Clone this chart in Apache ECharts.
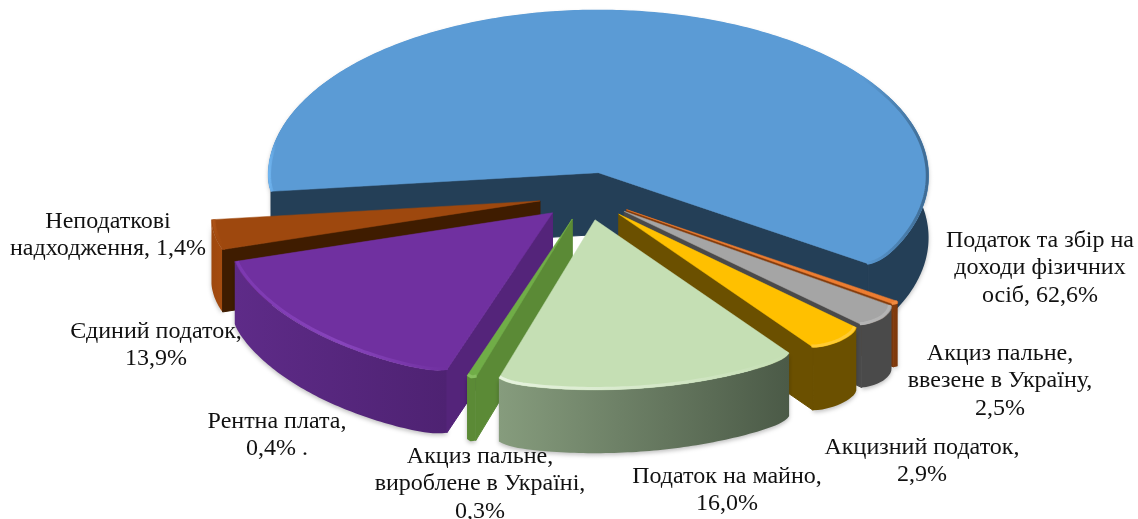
<!DOCTYPE html>
<html><head><meta charset="utf-8">
<style>html,body{margin:0;padding:0;background:#fff}#c{width:1138px;height:519px}</style>
<script src="https://cdn.jsdelivr.net/npm/echarts@6/dist/echarts.min.js"></script></head>
<body><div id="c"></div>
<script>
// Clockwise from the lower right of the pie
const categories = ['Податок та збір на доходи фізичних осіб','Рентна плата','Акциз пальне, ввезене в Україну','Акцизний податок','Податок на майно','Акциз пальне, вироблене в Україні','Єдиний податок','Неподаткові надходження'];
// Percentages printed in the labels
const labelPercents = ['62,6%','0,4%','2,5%','2,9%','16,0%','0,3%','13,9%','1,4%'];
// Share of the circle each slice occupies as drawn in the picture (degrees)
const sliceSweep = [220.5, 1.2, 8.4, 10.2, 53.2, 1.6, 54.4, 10.5];
const blueEndAngle = 34;

const colors = {
  top:  ['#5B9BD5','#ED7D31','#A5A5A5','#FFC000','#C5DFB4','#70AD47','#7030A0','#9E480E'],
  wall: ['#243F57','#843C0C','#4A4A4A','#6B5000','#4E5C4A','#5B8A36','#54247A','#3F1C00'],
  rimL: ['#243F57','#843C0C','#4A4A4A','#6B5000','#869C7D','#5B8A36','#5E2B88','#9E480E'],
  rimR: ['#243F57','#7A360A','#4A4A4A','#6B5000','#4B5A47','#5B8A36','#4E2272','#A54C10'],
  glowL:['#5B9BD5','#F08A40','#B4B4B4','#FFCB33','#E6F3DE','#86BE5E','#7C38B0','#B0561A'],
  glowM:['#5B9BD5','#F08A40','#B4B4B4','#FFCB33','#D6E8CA','#86BE5E','#8744BC','#A54C10'],
  glowR:['#5B9BD5','#F08A40','#B4B4B4','#FFCB33','#C5DFB4','#86BE5E','#7030A0','#9E480E']
};
const C = {x:587, y:196, R:331, S:166, p:0.0185, e:0.145, T:62, round:0.025, roundSide:0.004, roundDeg:2};
const rad = d => d*Math.PI/180;
// start angle of every slice (blue's start is blueEndAngle - its sweep)
const starts = []; let acc = blueEndAngle - sliceSweep[0];
sliceSweep.forEach(v => { starts.push(acc); acc += v; });
const order = sliceSweep.map((v,i)=>i).sort((a,b)=>Math.sin(rad(starts[a]+sliceSweep[a]/2))-Math.sin(rad(starts[b]+sliceSweep[b]/2)));

function proj(X,Y,down){const k=1/(1-C.p*Y);return [C.x+C.R*X*k, C.y+C.S*Y*k+(down?C.T*k:0)];}
function renderSlice(params, api){
  const i = api.value(0), a0=starts[i], a1=a0+sliceSweep[i], m=rad((a0+a1)/2);
  const ox=C.e*Math.cos(m), oy=C.e*Math.sin(m);
  const pt=(r,t,d)=>proj(ox+r*Math.cos(rad(t)),oy+r*Math.sin(rad(t)),d);
  // rim radius, eased inwards at the ends so front-facing outer corners look rounded
  const ease=(a)=>Math.sin(rad(a))>0.5?C.round:C.roundSide;
  const c0=ease(a0), c1=ease(a1);
  const edge=(t)=>1-Math.max(c0*Math.exp(-(t-a0)/C.roundDeg),c1*Math.exp(-(a1-t)/C.roundDeg));
  const arc=(r,d)=>{const n=Math.max(4,Math.ceil((a1-a0)/0.75));const o=[];for(let j=0;j<=n;j++){const t=a0+(a1-a0)*j/n;o.push(pt(r*edge(t),t,d));}return o;};
  const top=arc(1,false), bot=arc(1,true), apex=pt(0,0,false), apexD=pt(0,0,true);
  const xs=top.map(p=>p[0]); const minX=Math.min(...xs), maxX=Math.max(...xs);
  const grad=(stops)=>({type:'linear',x:minX,y:0,x2:maxX+0.01,y2:0,global:true,colorStops:stops});
  const wall=colors.wall[i];
  const poly=(points,fill)=>({type:'polygon',shape:{points},style:{fill,stroke:fill,lineWidth:1,lineJoin:'round'}});
  const last=top.length-1;
  const face0=Math.sin(rad(a0-90))>0, face1=Math.sin(rad(a1+90))>0;
  const kids=[
    {type:'polygon',shape:{points:top.concat(bot.slice().reverse())},
     style:{fill:grad([{offset:0,color:colors.rimL[i]},{offset:1,color:colors.rimR[i]}]),shadowBlur:4,shadowColor:'rgba(0,0,0,0.25)',shadowOffsetY:2}}
  ];
  if(face0&&face1){
    kids.push(poly([top[0],apex,top[last],bot[last],apexD,bot[0]],wall));
  } else {
    if(face0) kids.push(poly([apex,top[0],bot[0],apexD],wall));
    if(face1) kids.push(poly([apex,top[last],bot[last],apexD],wall));
  }
  kids.push({type:'polygon',shape:{points:[apex].concat(top)},style:{fill:colors.top[i],stroke:colors.top[i],lineWidth:0.5}});
  if(i===0){
    kids.push({type:'polyline',shape:{points:arc(0.996,false)},style:{fill:null,lineWidth:3,
      stroke:grad([{offset:0,color:'#72B8F4'},{offset:0.012,color:'#5B9BD5'},{offset:0.9,color:'#5B9BD5'},{offset:0.98,color:'#44749F'},{offset:1,color:'#3E6A92'}])}});
  } else {
    kids.push({type:'polyline',shape:{points:arc(0.992,false)},style:{fill:null,lineWidth:3,
      stroke:grad([{offset:0,color:colors.glowL[i]},{offset:0.5,color:colors.glowM[i]},{offset:1,color:colors.glowR[i]}])}});
  }
  return {type:'group',children:kids};
}

// Label placement (layout only): centre x / centre y of each label block
const labelLayout = [
  {lines:['Податок та збір на','доходи фізичних','осіб, {p}'],x:1040,y:268},
  {lines:['Рентна плата,','{p} .'],x:277,y:435},
  {lines:['Акциз пальне,','ввезене в Україну,','{p}'],x:1000,y:381},
  {lines:['Акцизний податок,','{p}'],x:922,y:461},
  {lines:['Податок на майно,','{p}'],x:727,y:490},
  {lines:['Акциз пальне,','вироблене в Україні,','{p}'],x:480,y:484},
  {lines:['Єдиний податок,','{p}'],x:156,y:345},
  {lines:['Неподаткові','надходження, {p}'],x:108,y:235}
];
const graphicText = labelLayout.map((l,i)=>({type:'text',x:l.x,y:l.y,z:100,style:{
  text:l.lines.join('\n').replace('{p}',labelPercents[i]),
  font:'24px "Liberation Serif"',lineHeight:27.5,fill:'#111',align:'center',verticalAlign:'middle'}}));

const chart=echarts.init(document.getElementById('c'),null,{renderer:'canvas'});
chart.setOption({
  animation:false,
  backgroundColor:'#fff',
  graphic:graphicText,
  series:[{type:'custom',coordinateSystem:'none',renderItem:renderSlice,
    data:order.map(i=>({name:categories[i],value:[i]}))}]
});
</script></body></html>
